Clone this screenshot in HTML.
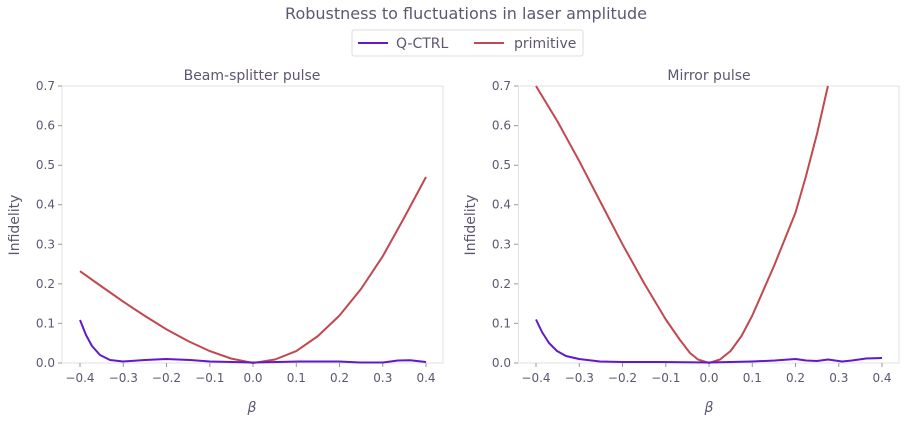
<!DOCTYPE html><html><head><style>body{margin:0;background:#fff}svg{font-family:"DejaVu Sans","Liberation Sans",sans-serif}</style></head><body>
<svg width="906" height="423" viewBox="0 0 906 423" xmlns="http://www.w3.org/2000/svg">
<rect width="906" height="423" fill="#fff"/>
<text x="466" y="19" font-size="16" fill="#5f5670" text-anchor="middle">Robustness to fluctuations in laser amplitude</text>
<rect x="352" y="30" width="231" height="26" fill="#fff" stroke="#ddd" rx="2"/>
<line x1="358" y1="43" x2="388" y2="43" stroke="#6219c8" stroke-width="2"/>
<text x="396" y="48" font-size="14" fill="#5f5670">Q-CTRL</text>
<line x1="474" y1="43" x2="504" y2="43" stroke="#c1484e" stroke-width="2"/>
<text x="514" y="48" font-size="14" fill="#5f5670">primitive</text>
<g font-size="12" fill="#5f5670">
<text x="252" y="80" font-size="14" text-anchor="middle">Beam-splitter pulse</text>
<text x="709" y="80" font-size="14" text-anchor="middle">Mirror pulse</text>
<text transform="translate(19,225) rotate(-90)" font-size="14" text-anchor="middle">Infidelity</text>
<text transform="translate(475,225) rotate(-90)" font-size="14" text-anchor="middle">Infidelity</text>
<text x="252" y="412" font-size="14" font-style="italic" text-anchor="middle">β</text>
<text x="709" y="412" font-size="14" font-style="italic" text-anchor="middle">β</text>
</g>
<g fill="none" stroke="#e2e2e2"><rect x="62" y="86" width="381" height="277"/><rect x="518.5" y="86" width="380.5" height="277"/></g>
<g font-size="12" fill="#5f5670" text-anchor="end">
<text x="55" y="367">0.0</text><text x="55" y="327.4">0.1</text><text x="55" y="287.9">0.2</text><text x="55" y="248.3">0.3</text><text x="55" y="208.7">0.4</text><text x="55" y="169.2">0.5</text><text x="55" y="129.6">0.6</text><text x="55" y="90">0.7</text>
<text x="511" y="367">0.0</text><text x="511" y="327.4">0.1</text><text x="511" y="287.9">0.2</text><text x="511" y="248.3">0.3</text><text x="511" y="208.7">0.4</text><text x="511" y="169.2">0.5</text><text x="511" y="129.6">0.6</text><text x="511" y="90">0.7</text>
</g>
<g font-size="12" fill="#5f5670" text-anchor="middle">
<text x="80" y="382">−0.4</text><text x="123.3" y="382">−0.3</text><text x="166.5" y="382">−0.2</text><text x="209.8" y="382">−0.1</text><text x="253" y="382">0.0</text><text x="296.3" y="382">0.1</text><text x="339.5" y="382">0.2</text><text x="382.8" y="382">0.3</text><text x="426" y="382">0.4</text>
<text x="536" y="382">−0.4</text><text x="579.3" y="382">−0.3</text><text x="622.5" y="382">−0.2</text><text x="665.8" y="382">−0.1</text><text x="709" y="382">0.0</text><text x="752.3" y="382">0.1</text><text x="795.5" y="382">0.2</text><text x="838.8" y="382">0.3</text><text x="882" y="382">0.4</text>
</g>
<g stroke="#999" stroke-width="1">
<path d="M58 363h4M58 323.4h4M58 283.9h4M58 244.3h4M58 204.7h4M58 165.2h4M58 125.6h4M58 86h4M514 363h4M514 323.4h4M514 283.9h4M514 244.3h4M514 204.7h4M514 165.2h4M514 125.6h4M514 86h4"/>
<path d="M80 363v4M123.3 363v4M166.5 363v4M209.8 363v4M253 363v4M296.3 363v4M339.5 363v4M382.8 363v4M426 363v4M536 363v4M579.3 363v4M622.5 363v4M665.8 363v4M709 363v4M752.3 363v4M795.5 363v4M838.8 363v4M882 363v4"/>
</g>
<g fill="none" stroke-width="2" stroke-linejoin="round">
<polyline stroke="#c1484e" points="80,271.2 101.6,286.5 123.3,301.7 145,316 166.5,329.4 188,341 209.8,351.1 231,358.5 253,363 275,359.5 296.3,351.1 318,336 339.5,315.5 361,289 382.8,256.2 404,218 426,177"/>
<polyline stroke="#6219c8" points="80,320 86,335 92,346 100,355 110,360 123,361.5 145,360 166,359 190,360 210,361.5 253,362.5 300,361.5 339,361.5 360,362.5 383,362.5 398,360.5 410,360.3 426,362"/>
<polyline stroke="#c1484e" points="536,86 557.6,121.6 579.3,161.2 601,203 622.5,244.3 644,283 665.8,319.5 680,340 690,353 698,359.5 709,363 720,359.5 730.6,351 741.5,336 752.3,315.5 774,266 795.5,212.6 806,176 817.1,133.5 827.9,86"/>
<polyline stroke="#6219c8" points="536,319.5 542,332 549,343 557,351 566,356 579,359 600,361.5 622.5,362 660,362 709,362.5 752,361.5 775,360.5 795.5,359 806,360.5 817,361 828,359.5 842,361.5 852,360.5 866,358.5 882,358"/>
</g>
</svg></body></html>
